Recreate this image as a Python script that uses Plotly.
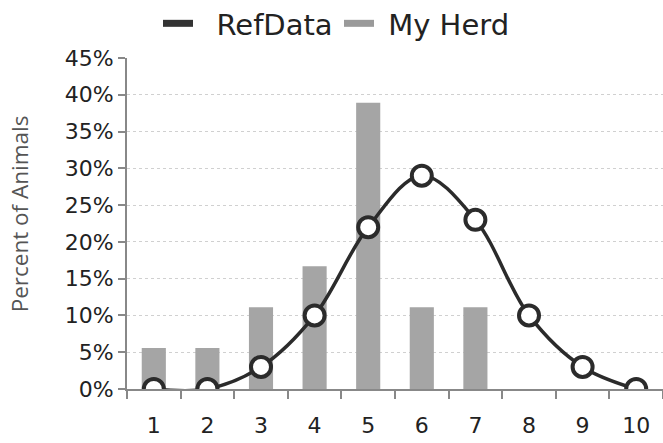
import plotly.graph_objects as go

categories = ["1", "2", "3", "4", "5", "6", "7", "8", "9", "10"]
my_herd = [5.56, 5.56, 11.1, 16.7, 38.9, 11.1, 11.1, 0, 0, 0]
ref_data = [0, 0, 3, 10, 22, 29, 23, 10, 3, 0]
y_ticks = [0, 5, 10, 15, 20, 25, 30, 35, 40, 45]
y_tick_labels = [f"{v}%" for v in y_ticks]

font = "DejaVu Sans"
fig = go.Figure()

fig.add_trace(go.Bar(
    x=categories, y=my_herd, width=0.45,
    marker=dict(color="#a5a5a5", line=dict(color="#8a8a8a", width=0)),
    showlegend=False, name="My Herd",
))
fig.add_trace(go.Scatter(
    x=categories, y=ref_data, mode="lines+markers",
    line=dict(color="#2b2b2b", width=3.5, shape="spline", smoothing=1.0),
    marker=dict(size=20, color="white", line=dict(color="#2b2b2b", width=4)),
    showlegend=False, name="RefData",
))
# legend entries
fig.add_trace(go.Scatter(x=[None], y=[None], mode="lines", name="\u00a0\u00a0RefData",
                         line=dict(color="#333333", width=7)))
fig.add_trace(go.Scatter(x=[None], y=[None], mode="lines", name="\u00a0My Herd",
                         line=dict(color="#9a9a9a", width=7)))

fig.update_layout(
    width=663, height=443,
    margin=dict(l=127, r=0, t=58, b=54, autoexpand=False),
    paper_bgcolor="white", plot_bgcolor="white",
    font=dict(family=font, color="#222222"),
    legend=dict(orientation="h", xref="container", yref="container",
                x=158 / 663, xanchor="left", y=0.947, yanchor="middle",
                font=dict(size=29, color="#222222"), itemwidth=30,
                entrywidth=136, entrywidthmode="pixels",
                bgcolor="rgba(0,0,0,0)"),
)
fig.update_xaxes(
    type="category", tickson="boundaries", ticks="outside", ticklen=8,
    tickcolor="#888888", tickwidth=1.5, automargin=False,
    showline=True, linecolor="#888888", linewidth=2,
    showgrid=False, tickfont=dict(size=22, color="#222222"),
    ticklabelstandoff=16, range=[-0.5, 9.5],
)
fig.update_yaxes(
    range=[0, 45], tickvals=y_ticks, ticktext=y_tick_labels, automargin=False,
    ticks="outside", ticklen=7, tickcolor="#888888", tickwidth=1.5,
    showline=True, linecolor="#888888", linewidth=2,
    showgrid=True, gridcolor="#d0d0d0", griddash="dot", gridwidth=1,
    zeroline=False, tickfont=dict(size=22, color="#222222"),
)
fig.add_annotation(
    text="Percent of Animals", textangle=-90, xref="paper", yref="paper",
    x=-0.2, y=0.53, xanchor="center", yanchor="middle", showarrow=False,
    font=dict(size=22.5, color="#555555", family="Open Sans"),
)

fig.write_html("out.html", config={"displayModeBar": False},
               post_script="document.body.style.margin='0';document.body.style.padding='0';")
